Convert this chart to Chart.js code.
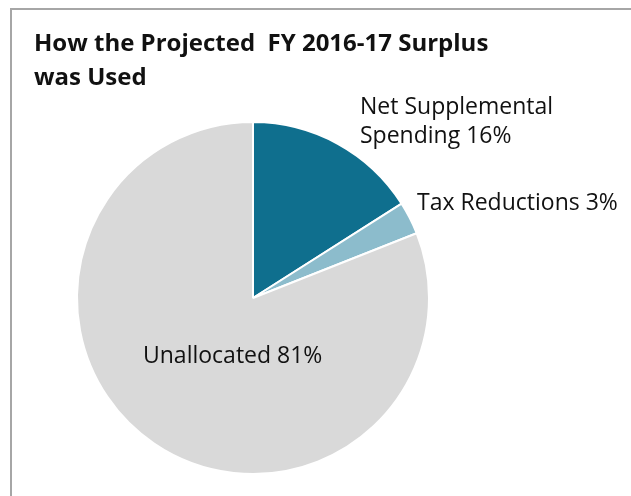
<!DOCTYPE html>
<html>
<head>
<meta charset="utf-8">
<script src="https://cdn.jsdelivr.net/npm/chart.js@4.4.1/dist/chart.umd.min.js"></script>
<style>
    html, body { margin: 0; padding: 0; background: #fff; }
    #wrap { position: relative; width: 631px; height: 496px; overflow: hidden; }
    #frame { position: absolute; left: 10px; top: 8px; width: 700px; height: 600px;
             border-top: 2px solid #a6a6a6; border-left: 2px solid #a6a6a6; }
    #surplus-chart { position: absolute; left: 0; top: 0; }
</style>
</head>
<body>
<div id="wrap">
    <div id="frame"></div>
    <canvas id="surplus-chart" width="631" height="496"></canvas>
</div>
<script>
"use strict";

var titleLines = ["How the Projected  FY 2016-17 Surplus", "was Used"];
var categories = ["Net Supplemental Spending", "Tax Reductions", "Unallocated"];
var shares = [16, 3, 81];
var sliceLabels = [["Net Supplemental", "Spending 16%"], ["Tax Reductions 3%"], ["Unallocated 81%"]];
var sliceColors = ["#0f6f8e", "#8cbccc", "#d9d9d9"];

/* where each label sits, as a fraction of the pie radius from the centre */
var labelAnchors = [
    { dx: 0.608, dy: -1.045, align: "left" },
    { dx: 0.932, dy: -0.50, align: "left" },
    { dx: -0.625, dy: 0.369, align: "left" }
];

var textPlugin = {
    id: "surplusText",
    afterDraw: function (chart) {
        var ctx = chart.ctx;
        ctx.save();
        ctx.fillStyle = "#111";
        ctx.textBaseline = "alphabetic";
        ctx.textAlign = "left";
        ctx.font = "bold 24px 'Open Sans'";
        for (var i = 0; i < titleLines.length; i++) {
            ctx.fillText(titleLines[i], 34, 51 + i * 34);
        }
        var arcs = chart.getDatasetMeta(0).data;
        ctx.font = "23px 'Open Sans'";
        for (var j = 0; j < arcs.length; j++) {
            var a = arcs[j];
            var r = a.outerRadius;
            var lines = sliceLabels[j];
            ctx.textAlign = labelAnchors[j].align;
            for (var k = 0; k < lines.length; k++) {
                ctx.fillText(lines[k], a.x + labelAnchors[j].dx * r, a.y + labelAnchors[j].dy * r + k * 29);
            }
        }
        ctx.restore();
    }
};

var ctx = document.getElementById("surplus-chart");
var surplusChart = new Chart(ctx, {
    type: "pie",
    data: {
        labels: categories,
        datasets: [
            {
                data: shares,
                backgroundColor: sliceColors,
                borderColor: "#ffffff",
                borderWidth: 2
            }
        ]
    },
    options: {
        responsive: false,
        animation: false,
        layout: { padding: { left: 76, right: 201, top: 121, bottom: 21 } },
        plugins: {
            legend: { display: false },
            tooltip: { enabled: false },
            title: { display: false }
        }
    },
    plugins: [textPlugin]
});
</script>
</body>
</html>
